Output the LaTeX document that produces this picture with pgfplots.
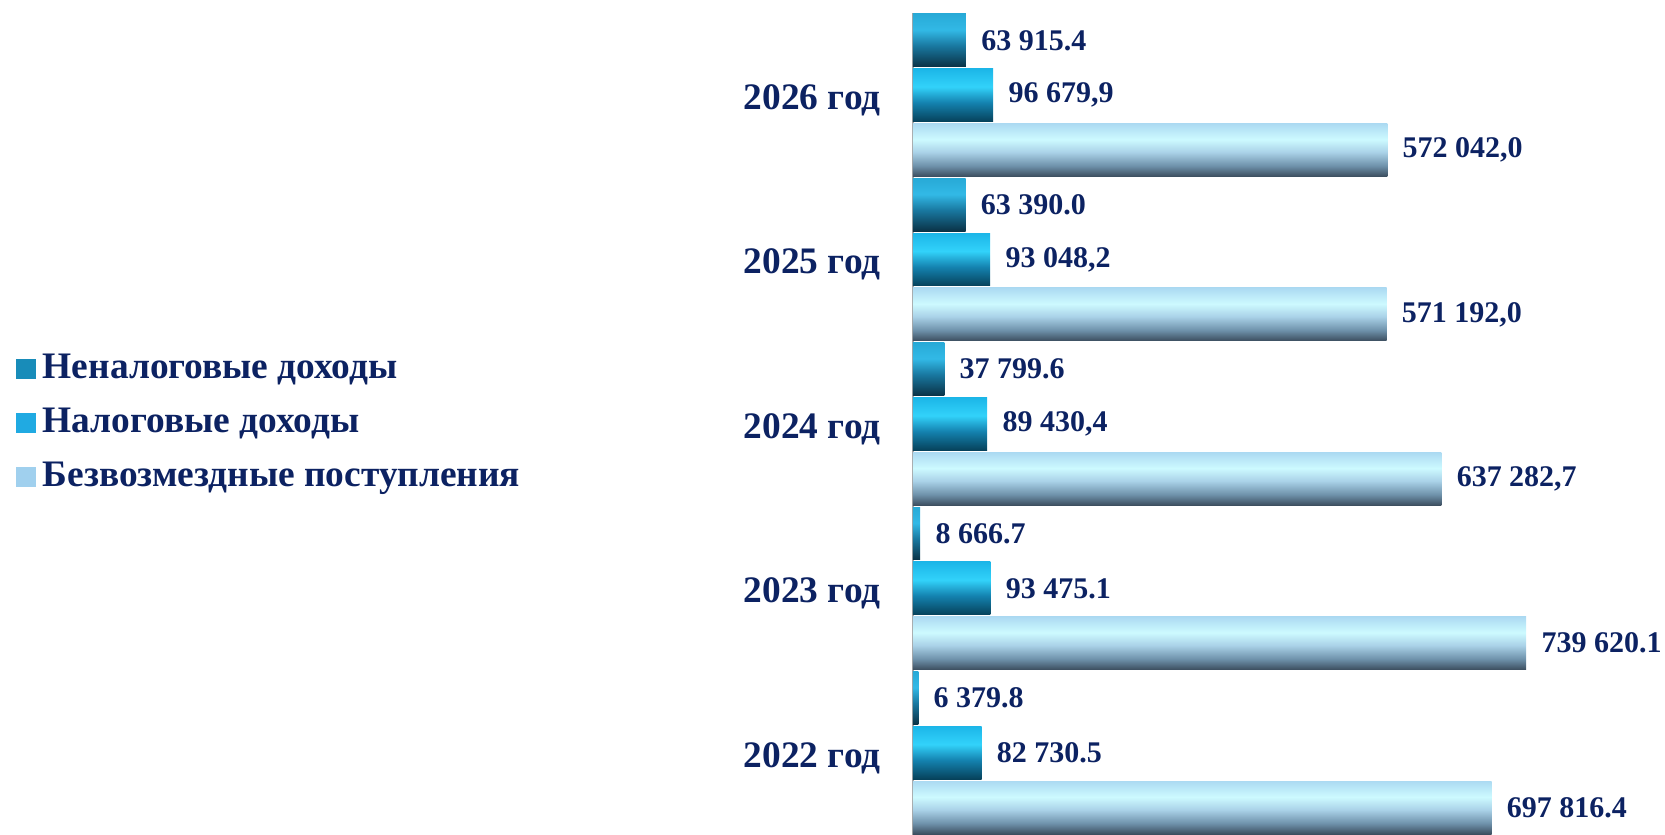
\documentclass[border=0pt]{standalone}
\usepackage{pgfplots}
\pgfplotsset{compat=1.18}
\usepackage{fontspec}
\setmainfont{Liberation Serif}

\definecolor{navy}{RGB}{12,34,98}
\definecolor{c1}{RGB}{24,140,185}
\definecolor{c2}{RGB}{32,170,226}
\definecolor{c3}{RGB}{160,208,238}

\definecolor{s1a}{RGB}{10,50,70}
\definecolor{s1b}{RGB}{25,120,160}
\definecolor{s1c}{RGB}{50,185,230}
\definecolor{s1d}{RGB}{40,170,215}
\definecolor{s2a}{RGB}{6,65,90}
\definecolor{s2b}{RGB}{20,130,175}
\definecolor{s2c}{RGB}{50,210,250}
\definecolor{s2d}{RGB}{28,182,232}
\definecolor{s3a}{RGB}{60,78,95}
\definecolor{s3b}{RGB}{110,145,170}
\definecolor{s3c}{RGB}{170,210,232}
\definecolor{s3d}{RGB}{205,250,255}
\definecolor{s3e}{RGB}{172,218,242}

\pgfdeclareverticalshading{sh1}{100bp}{color(0bp)=(s1a); color(25bp)=(s1a); color(45bp)=(s1b); color(60bp)=(s1c); color(75bp)=(s1d); color(100bp)=(s1d)}
\pgfdeclareverticalshading{sh2}{100bp}{color(0bp)=(s2a); color(25bp)=(s2a); color(43bp)=(s2b); color(58bp)=(s2c); color(75bp)=(s2d); color(100bp)=(s2d)}
\pgfdeclareverticalshading{sh3}{100bp}{color(0bp)=(s3a); color(25bp)=(s3a); color(35bp)=(s3b); color(48bp)=(s3c); color(60bp)=(s3d); color(75bp)=(s3e); color(100bp)=(s3e)}

\newcommand{\bigfont}{\fontsize{18.7}{22}\selectfont\bfseries}
\newcommand{\valfont}{\fontsize{15}{18}\selectfont\bfseries}

% one bar: shading, shift, value, category index, label
\newcommand{\onebar}[5]{%
  \addplot[xbar, bar width=26.4pt, bar shift=#2, draw=none, shading=#1, forget plot,
    nodes near coords style={yshift=#2}]
    coordinates {(#3,#4) [#5]};}

\begin{document}
\begin{tikzpicture}
\begin{axis}[
  scale only axis,
  width=376pt, height=411pt,
  xmin=0, xmax=907000,
  ymin=-0.5, ymax=4.5,
  clip=false,
  separate axis lines,
  axis x line=none,
  axis y line=left,
  y axis line style={-, draw=gray!70, line width=0.6pt},
  ytick={0,1,2,3,4},
  yticklabels={2022 год,2023 год,2024 год,2025 год,2026 год},
  yticklabel style={font=\bigfont, text=navy, inner sep=0pt, xshift=-16pt, yshift=-2.6pt},
  major tick length=0pt,
  point meta=explicit symbolic,
  nodes near coords,
  nodes near coords style={font=\valfont, text=navy, anchor=west, inner sep=0pt, xshift=7.5pt},
  legend style={at={(rel axis cs:0,0.501)}, anchor=west, xshift=-448.5pt,
    draw=none, fill=none, inner sep=0pt, outer sep=0pt, row sep=10pt,
    font=\bigfont, text=navy,
    nodes={inner sep=0pt, text height=13pt, text depth=4pt}},
  legend cell align=left,
]
\addlegendimage{legend image code/.code={\fill[c1] (0pt,-4.75pt) rectangle (9.5pt,4.75pt); \path (13pt,0pt);}}
\addlegendentry{Неналоговые доходы}
\addlegendimage{legend image code/.code={\fill[c2] (0pt,-4.75pt) rectangle (9.5pt,4.75pt); \path (13pt,0pt);}}
\addlegendentry{Налоговые доходы}
\addlegendimage{legend image code/.code={\fill[c3] (0pt,-4.75pt) rectangle (9.5pt,4.75pt); \path (13pt,0pt);}}
\addlegendentry{Безвозмездные поступления}

% Неналоговые доходы
\onebar{sh1}{27.4pt}{6379.8}{0}{6 379.8}
\onebar{sh1}{27.4pt}{8666.7}{1}{8 666.7}
\onebar{sh1}{27.4pt}{37799.6}{2}{37 799.6}
\onebar{sh1}{27.4pt}{63390.0}{3}{63 390.0}
\onebar{sh1}{27.4pt}{63915.4}{4}{63 915.4}
% Налоговые доходы
\onebar{sh2}{0pt}{82730.5}{0}{82 730.5}
\onebar{sh2}{0pt}{93475.1}{1}{93 475.1}
\onebar{sh2}{0pt}{89430.4}{2}{89 430,4}
\onebar{sh2}{0pt}{93048.2}{3}{93 048,2}
\onebar{sh2}{0pt}{96679.9}{4}{96 679,9}
% Безвозмездные поступления
\onebar{sh3}{-27.4pt}{697816.4}{0}{697 816.4}
\onebar{sh3}{-27.4pt}{739620.1}{1}{739 620.1}
\onebar{sh3}{-27.4pt}{637282.7}{2}{637 282,7}
\onebar{sh3}{-27.4pt}{571192.0}{3}{571 192,0}
\onebar{sh3}{-27.4pt}{572042.0}{4}{572 042,0}

\coordinate (bl) at (rel axis cs:0,0);
\end{axis}
\pgfresetboundingbox
\path[use as bounding box] ([xshift=-456.5pt]bl) rectangle ([xshift=376pt, yshift=417.5pt]bl);
\end{tikzpicture}
\end{document}
